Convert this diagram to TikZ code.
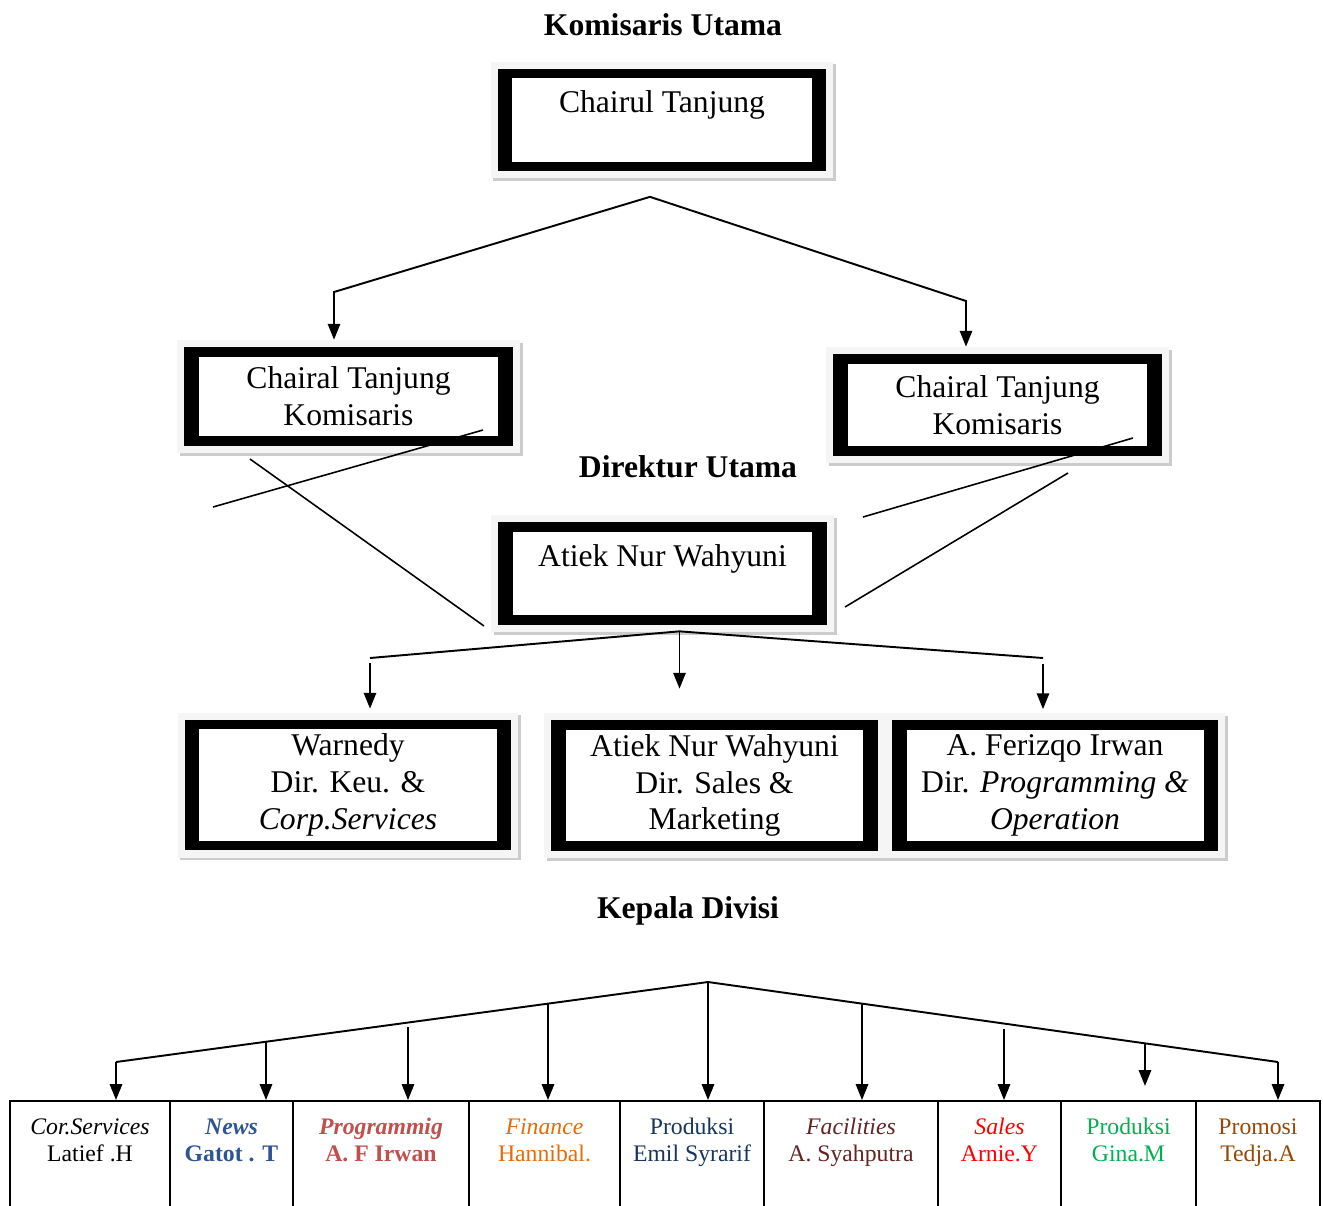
\documentclass[tikz,border=0pt]{standalone}
\usepackage{fontspec}
\setmainfont{Liberation Serif}
\usepackage{xcolor}
\usetikzlibrary{arrows.meta,positioning,calc,shadows}

\definecolor{newsblue}{RGB}{47,84,150}
\definecolor{progred}{RGB}{192,80,77}
\definecolor{finorange}{RGB}{228,108,10}
\definecolor{prodnavy}{RGB}{23,54,93}
\definecolor{facbrown}{RGB}{99,36,35}
\definecolor{salesred}{RGB}{255,0,0}
\definecolor{prodgreen}{RGB}{0,176,80}
\definecolor{promobrown}{RGB}{151,72,6}

\begin{document}
\begin{tikzpicture}[x=0.02cm, y=-0.02cm,
    orgbox/.style={rectangle, fill=gray!8, minimum width=6.86cm, minimum height=2.34cm,
        inner sep=0pt, align=center, font=\fontsize{18}{21}\selectfont,
        general shadow={shadow xshift=1.5pt, shadow yshift=-1.5pt, fill=gray!40},
        path picture={
            \fill[black] ($(path picture bounding box.south west)+(4pt,4pt)$) rectangle ($(path picture bounding box.north east)+(-4pt,-4pt)$);
            \fill[white] ($(path picture bounding box.south west)+(12.5pt,9.5pt)$) rectangle ($(path picture bounding box.north east)+(-12.5pt,-9.5pt)$);
        }},
    dirbox/.style={orgbox, minimum width=6.82cm, minimum height=2.9cm},
    divbox/.style={rectangle, draw, line width=1pt, anchor=north, inner sep=0pt, align=center,
        font=\fontsize{13.5}{15.3}\selectfont, text height=34.5pt, text depth=37pt},
    title/.style={anchor=base, font=\bfseries\fontsize{18}{21}\selectfont},
    line/.style={line width=1.1pt},
    arrow/.style={line width=1.1pt, -{Triangle[width=7pt,length=9pt]}},
    cross/.style={line width=0.9pt}
]
    \useasboundingbox (0,0) rectangle (1323,1205);
    \fill[white] (0,0) rectangle (1323,1205);

    % Komisaris level
    \node[title] (ttlkom) at (663,35) {Komisaris Utama};
    \node[orgbox] (komut) at (662,120) {Chairul Tanjung\\ ~};
    \node[orgbox, minimum height=2.26cm] (kom1) at (348.5,396.5) {Chairal Tanjung\\Komisaris};
    \node[orgbox, minimum height=2.32cm] (kom2) at (997.5,405) {Chairal Tanjung\\Komisaris};

    % Direktur level
    \node[title] (ttldir) at (688,477) {Direktur Utama};
    \node[orgbox] (dirut) at (662.5,573.5) {Atiek Nur Wahyuni\\ ~};
    \node[dirbox] (dkeu) at (348,785) {Warnedy\\Dir. Keu. \&\\\textit{Corp.Services}};
    \node[dirbox] (dsales) at (714.5,785.5) {Atiek Nur Wahyuni\\Dir. Sales \&\\Marketing};
    \node[dirbox] (dprog) at (1055,785.5) {A. Ferizqo Irwan\\Dir. \textit{Programming \&}\\\textit{Operation}};

    % Kepala divisi level
    \node[title] (ttldiv) at (688,918) {Kepala Divisi};
    \node[divbox, minimum width=3.2cm] (d1) at (90,1100) {\textit{Cor.Services}\\Latief .H};
    \node[divbox, minimum width=2.46cm, text=newsblue] (d2) at (231.5,1100) {\textbf{\textit{News}}\\\textbf{Gatot . T}};
    \node[divbox, minimum width=3.52cm, text=progred] (d3) at (381,1100) {\textbf{\textit{Programmig}}\\\textbf{A. F Irwan}};
    \node[divbox, minimum width=3.02cm, text=finorange] (d4) at (544.5,1100) {\textit{Finance}\\Hannibal.};
    \node[divbox, minimum width=2.88cm, text=prodnavy] (d5) at (692,1100) {Produksi\\Emil Syrarif};
    \node[divbox, minimum width=3.48cm, text=facbrown] (d6) at (851,1100) {\textit{Facilities}\\A. Syahputra};
    \node[divbox, minimum width=2.46cm, text=salesred] (d7) at (999.5,1100) {\textit{Sales}\\Arnie.Y};
    \node[divbox, minimum width=2.7cm, text=prodgreen] (d8) at (1128.5,1100) {Produksi\\Gina.M};
    \node[divbox, minimum width=2.48cm, text=promobrown] (d9) at (1258,1100) {Promosi\\Tedja.A};

    % Komisaris utama to komisaris
    \coordinate (kapex) at ($(komut.south)+(-12,18)$);
    \coordinate (kleft) at (334,292);
    \coordinate (kright) at (966,301);
    \draw[arrow] (kapex) -- (kleft) -- (kleft |- kom1.north);
    \draw[arrow] (kapex) -- (kright) -- (kright |- kom2.north);

    % stray lines between komisaris and direktur
    \coordinate (xa1) at (483,430); \coordinate (xa2) at (213,507);
    \coordinate (xb1) at (250,459); \coordinate (xb2) at (484,626);
    \coordinate (xc1) at (1133,438); \coordinate (xc2) at (863,517);
    \coordinate (xd1) at (1068,473); \coordinate (xd2) at (845,607);
    \draw[cross] (xa1) -- (xa2);
    \draw[cross] (xb1) -- (xb2);
    \draw[cross] (xc1) -- (xc2);
    \draw[cross] (xd1) -- (xd2);

    % Direktur utama to direktur
    \coordinate (dapex) at ($(dirut.south)+(17,-1)$);
    \coordinate (dleft) at (370,658);
    \coordinate (dright) at (1043,658);
    \draw[line] (dleft) -- (dapex) -- (dright);
    \draw[arrow, shorten >=2pt] ($(dleft)+(0,5)$) -- (dleft |- dkeu.north);
    \draw[arrow] (dapex) -- ($(dapex |- dsales.north)+(0,-24)$);
    \draw[arrow, shorten >=2pt] ($(dright)+(0,6)$) -- (dright |- dprog.north);

    % down to kepala divisi
    \coordinate (vapex) at (708,982);
    \coordinate (vleft) at (116,1062);
    \coordinate (vright) at (1278,1062);
    \draw[line] (vleft) -- (vapex) -- (vright);
    \foreach \x/\y/\b in {116/1062/d1, 266/1042/d2, 408/1027/d3, 548/1004/d4, 708/982/d5, 862/1004/d6, 1004/1029/d7, 1278/1062/d9}
        \draw[arrow] (\x,\y) -- (\x,0 |- \b.north);
    \draw[arrow, shorten >=8pt] (1145,1043) -- (1145,0 |- d8.north);
\end{tikzpicture}
\end{document}
